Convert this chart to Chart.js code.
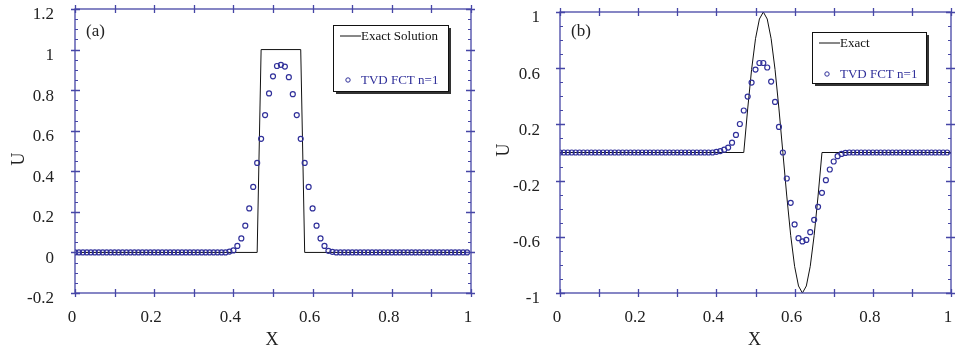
<!DOCTYPE html>
<html>
<head>
<meta charset="utf-8">
<script src="https://cdn.jsdelivr.net/npm/chart.js@4.4.0/dist/chart.umd.min.js"></script>
<style>
  body { margin: 0; background: #fff; }
  #wrap { position: relative; width: 961px; height: 347px; }
  .panel { position: absolute; top: 0; height: 347px; }
</style>
</head>
<body>
<div id="wrap">
  <div class="panel" style="left:0;width:480px"><canvas id="chartA"></canvas></div>
  <div class="panel" style="left:480px;width:481px"><canvas id="chartB"></canvas></div>
</div>
<script>
// grid of the numerical solution, dx = 0.01
const xGrid = Array.from({ length: 100 }, (_, i) => +(i * 0.01).toFixed(2));

// (a) square pulse
const exactAX = [0, 0.46, 0.47, 0.57, 0.58, 1];
const exactAY = [0, 0, 1, 1, 0, 0];
const tvdAStart = 39; // index of first non-zero value
const tvdAValues = [0.004, 0.01, 0.032, 0.069, 0.132, 0.217, 0.323, 0.441, 0.56, 0.677,
  0.784, 0.868, 0.919, 0.925, 0.916, 0.864, 0.78, 0.677, 0.56, 0.441,
  0.323, 0.217, 0.132, 0.069, 0.032, 0.008, 0.003];

// (b) one sine wave
const exactBX = [0, 0.47, 0.48, 0.49, 0.5, 0.51, 0.52, 0.53, 0.54, 0.55, 0.56, 0.57,
  0.58, 0.59, 0.6, 0.61, 0.62, 0.63, 0.64, 0.65, 0.66, 0.67, 1];
const exactBY = [0, 0, 0.31, 0.59, 0.81, 0.95, 1, 0.95, 0.81, 0.59, 0.31, 0,
  -0.31, -0.59, -0.81, -0.95, -1, -0.95, -0.81, -0.59, -0.31, 0, 0];
const tvdBStart = 40;
const tvdBValues = [0.005, 0.01, 0.02, 0.035, 0.07, 0.125, 0.203, 0.299, 0.398, 0.498,
  0.59, 0.637, 0.637, 0.605, 0.505, 0.36, 0.182, 0, -0.185, -0.358,
  -0.512, -0.61, -0.633, -0.622, -0.567, -0.479, -0.387, -0.287, -0.197, -0.121,
  -0.064, -0.026, -0.01, -0.003];

// ticks
const xLabelTicks = [0, 0.2, 0.4, 0.6, 0.8, 1];
const xMajorTicks = [0, 0.1, 0.2, 0.3, 0.4, 0.5, 0.6, 0.7, 0.8, 0.9, 1];
const yTicksA = [-0.2, 0, 0.2, 0.4, 0.6, 0.8, 1, 1.2];
const yTicksB = [-1, -0.6, -0.2, 0.2, 0.6, 1];

const axisColor = '#4646a6';
const markColor = '#30309a';
const serif = '"Liberation Serif", "Times New Roman", serif';

const toPoints = (xs, ys) => xs.map((x, i) => ({ x: x, y: ys[i] }));
const tvdPoints = (start, vals) => xGrid.map((x, i) => {
  let v = 0;
  if (i >= start && i < start + vals.length) v = vals[i - start];
  return { x: x, y: v };
});

const minorOf = (ticks, n) => {
  let out = [];
  for (let i = 0; i < ticks.length - 1; i++) {
    let step = (ticks[i + 1] - ticks[i]) / n;
    for (let k = 1; k < n; k++) out.push(ticks[i] + k * step);
  }
  return out;
};

// frame, ticks on all four sides, panel tag, axis titles, boxed legend
const framePlugin = {
  id: 'frame',
  afterDraw(chart, args, o) {
    const { ctx, chartArea: a, scales } = chart;
    const x = scales.x, y = scales.y;
    ctx.save();
    ctx.strokeStyle = axisColor;
    ctx.lineWidth = 1.3;
    ctx.strokeRect(a.left, a.top, a.right - a.left, a.bottom - a.top);
    ctx.beginPath();
    xMajorTicks.forEach(v => {
      const p = Math.round(x.getPixelForValue(v)) + 0.5;
      ctx.moveTo(p, a.bottom - 4); ctx.lineTo(p, a.bottom + 4);
      ctx.moveTo(p, a.top - 4); ctx.lineTo(p, a.top + 4);
    });
    o.yMajor.forEach(v => {
      const p = Math.round(y.getPixelForValue(v)) + 0.5;
      ctx.moveTo(a.left - 4, p); ctx.lineTo(a.left + 5, p);
      ctx.moveTo(a.right - 5, p); ctx.lineTo(a.right + 4, p);
    });
    ctx.stroke();
    ctx.lineWidth = 1;
    ctx.beginPath();
    minorOf(o.yMajor, o.minorN).forEach(v => {
      const p = Math.round(y.getPixelForValue(v)) + 0.5;
      ctx.moveTo(a.left, p); ctx.lineTo(a.left + 3, p);
      ctx.moveTo(a.right - 3, p); ctx.lineTo(a.right, p);
    });
    ctx.stroke();

    // panel tag and axis titles
    ctx.fillStyle = '#222';
    ctx.textBaseline = 'middle';
    ctx.textAlign = 'left';
    ctx.font = '17px ' + serif;
    ctx.fillText(o.tag, a.left + 11, a.top + o.tagDy);
    ctx.font = '18px ' + serif;
    ctx.textAlign = 'center';
    ctx.fillText('X', (a.left + a.right) / 2 - 1, 340);
    ctx.save();
    ctx.translate(o.uX, o.uY);
    ctx.rotate(-Math.PI / 2);
    ctx.fillText('U', 0, 0);
    ctx.restore();

    // legend box with shadow
    const L = o.legend;
    ctx.fillStyle = '#333';
    ctx.fillRect(L.x + 3, L.y + 3, L.w, L.h);
    ctx.fillStyle = '#fff';
    ctx.fillRect(L.x, L.y, L.w, L.h);
    ctx.strokeStyle = '#111';
    ctx.lineWidth = 1;
    ctx.strokeRect(L.x + 0.5, L.y + 0.5, L.w, L.h);
    ctx.beginPath();
    ctx.moveTo(L.x + 7, L.y + L.line1); ctx.lineTo(L.x + 28, L.y + L.line1);
    ctx.stroke();
    ctx.strokeStyle = markColor;
    ctx.beginPath();
    ctx.arc(L.x + 15, L.y + L.line2, 2.2, 0, Math.PI * 2);
    ctx.stroke();
    ctx.font = '13px ' + serif;
    ctx.textAlign = 'left';
    ctx.fillStyle = '#111';
    ctx.fillText(L.text1, L.x + 28, L.y + L.line1 + 1);
    ctx.fillStyle = markColor;
    ctx.fillText(L.text2, L.x + 28, L.y + L.line2 + 1);
    ctx.restore();
  }
};

const makeChart = (id, exactPts, tvdPts, yTicks, cfg) => {
  return new Chart(document.getElementById(id), {
    type: 'scatter',
    data: {
      datasets: [
        {
          label: 'TVD FCT n=1',
          data: tvdPts,
          pointStyle: 'circle',
          pointRadius: 2.5,
          pointBorderWidth: 1.2,
          borderColor: markColor,
          backgroundColor: 'rgba(0,0,0,0)',
          showLine: false
        },
        {
          label: cfg.legend.text1,
          data: exactPts,
          showLine: true,
          borderColor: '#111',
          borderWidth: 1,
          pointRadius: 0,
          tension: 0
        }
      ]
    },
    options: {
      responsive: true,
      maintainAspectRatio: false,
      animation: false,
      events: [],
      layout: { padding: { top: cfg.top, right: cfg.right, left: 0, bottom: 0 } },
      plugins: {
        legend: { display: false },
        tooltip: { enabled: false },
        frame: cfg
      },
      scales: {
        x: {
          type: 'linear',
          min: 0, max: 1,
          border: { display: false },
          grid: { display: false, drawTicks: false },
          afterBuildTicks: s => { s.ticks = xLabelTicks.map(v => ({ value: v })); },
          afterFit: s => { s.height = 54; s.paddingLeft = 0; s.paddingRight = 0; },
          ticks: {
            color: '#222',
            font: { family: serif, size: 17 },
            padding: 14,
            labelOffset: -3,
            maxRotation: 0,
            callback: v => String(+v.toFixed(1))
          }
        },
        y: {
          type: 'linear',
          min: yTicks[0], max: yTicks[yTicks.length - 1],
          border: { display: false },
          grid: { display: false, drawTicks: false },
          afterBuildTicks: s => { s.ticks = yTicks.map(v => ({ value: v })); },
          afterFit: s => { s.width = cfg.yWidth; s.paddingTop = 0; s.paddingBottom = 0; },
          ticks: {
            color: '#222',
            font: { family: serif, size: 17 },
            padding: cfg.yPad,
            labelOffset: 6,
            callback: v => String(+v.toFixed(1))
          }
        }
      }
    },
    plugins: [framePlugin]
  });
};

makeChart('chartA', toPoints(exactAX, exactAY), tvdPoints(tvdAStart, tvdAValues), yTicksA, {
  top: 9, right: 9, yWidth: 75, yPad: 21,
  yMajor: yTicksA, minorN: 4,
  tag: '(a)', tagDy: 23,
  uX: 19, uY: 159,
  legend: { x: 333, y: 25, w: 115, h: 66, line1: 11, line2: 55, text1: 'Exact Solution', text2: 'TVD FCT n=1' }
});

makeChart('chartB', toPoints(exactBX, exactBY), tvdPoints(tvdBStart, tvdBValues), yTicksB, {
  top: 12, right: 10, yWidth: 80, yPad: 20,
  yMajor: yTicksB, minorN: 4,
  tag: '(b)', tagDy: 20,
  uX: 24, uY: 150,
  legend: { x: 332, y: 32, w: 114, h: 51, line1: 11, line2: 42, text1: 'Exact', text2: 'TVD FCT n=1' }
});
</script>
</body>
</html>
